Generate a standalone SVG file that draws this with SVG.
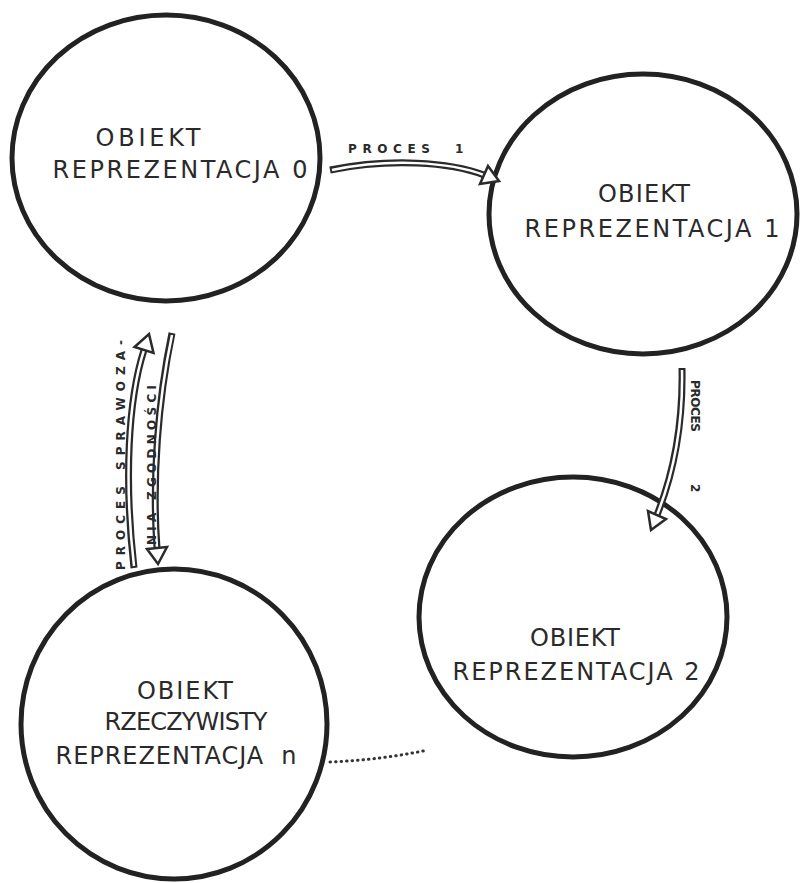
<svg xmlns="http://www.w3.org/2000/svg" width="804" height="883" viewBox="0 0 804 883">
<style>
.node ellipse{fill:none;stroke:#222;stroke-width:5}
.t{font-family:"DejaVu Sans","Liberation Sans",sans-serif;font-size:24px;fill:#2a2a2a;text-anchor:middle}
.lbl{font-family:"DejaVu Sans","Liberation Sans",sans-serif;font-size:12px;font-weight:bold;fill:#2a2a2a}
.shaft{fill:none;stroke:#2a2a2a;stroke-width:7;stroke-linecap:butt}
.gap{fill:none;stroke:#fff;stroke-width:2.5}
.head{fill:#fff;stroke:#2a2a2a;stroke-width:2.5;stroke-linejoin:miter}
.dots{fill:none;stroke:#333;stroke-width:3;stroke-linecap:round;stroke-dasharray:0.5 5}
</style>
<rect width="804" height="883" fill="#fff"/>
<g id="node-0" class="node">
<ellipse cx="166" cy="158" rx="154" ry="143"/>
<text class="t" x="148" y="146" textLength="105" lengthAdjust="spacing">OBIEKT</text>
<text class="t" x="180" y="178" textLength="255" lengthAdjust="spacing">REPREZENTACJA 0</text>
</g>
<g id="node-1" class="node">
<ellipse cx="643" cy="214" rx="154" ry="140"/>
<text class="t" x="644" y="202" textLength="92" lengthAdjust="spacing">OBIEKT</text>
<text class="t" x="652" y="237" textLength="255" lengthAdjust="spacing">REPREZENTACJA 1</text>
</g>
<g id="node-2" class="node">
<ellipse cx="573" cy="617" rx="154" ry="140"/>
<text class="t" x="575" y="646" textLength="90" lengthAdjust="spacing">OBIEKT</text>
<text class="t" x="576" y="680" textLength="247" lengthAdjust="spacing">REPREZENTACJA 2</text>
</g>
<g id="node-n" class="node">
<ellipse cx="174" cy="724" rx="153" ry="155"/>
<text class="t" x="185" y="699" textLength="96" lengthAdjust="spacing">OBIEKT</text>
<text class="t" x="186" y="730" textLength="163" lengthAdjust="spacing">RZECZYWISTY</text>
<text class="t" x="176" y="764" textLength="241" lengthAdjust="spacing">REPREZENTACJA&#160; n</text>
</g>
<g id="connectors">
<g id="proces-1">
<path class="shaft" d="M330,170 C390,158 450,162 484,175"/>
<path class="gap" d="M332,170 C390,158 450,162 484,175"/>
<polygon class="head" points="499,181 488,166 480,184"/>
<text class="lbl" x="348" y="153" textLength="82" lengthAdjust="spacing">PROCES</text>
<text class="lbl" x="455" y="153">1</text>
</g>
<g id="proces-2">
<path class="shaft" d="M682,368 C683,420 675,470 657,515"/>
<path class="gap" d="M682,370 C683,420 675,470 657,515"/>
<polygon class="head" points="651,530 666,519 648,511"/>
<text class="lbl" transform="translate(691,380) rotate(90)" textLength="52" lengthAdjust="spacing">PROCES</text>
<text class="lbl" transform="translate(691,484) rotate(90)">2</text>
</g>
<g id="proces-sprawozania">
<path class="shaft" d="M134,568 C124,480 128,400 144,350"/>
<path class="gap" d="M134,566 C124,480 128,400 144,350"/>
<polygon class="head" points="149,334 153.5,353 134.5,347"/>
<path class="shaft" d="M172,333 C158,400 152,480 157,548"/>
<path class="gap" d="M172,335 C158,400 152,480 157,548"/>
<polygon class="head" points="158,564 167,547 147,549"/>
<text class="lbl" transform="translate(125,570) rotate(-90)" textLength="230" lengthAdjust="spacing">PROCES SPRAWOZA-</text>
<text class="lbl" transform="translate(156,545) rotate(-90)" textLength="160" lengthAdjust="spacing">NIA ZGODNOŚCI</text>
</g>
<path id="dotted" class="dots" d="M330,762 Q380,760 428,750"/>
</g>
</svg>
